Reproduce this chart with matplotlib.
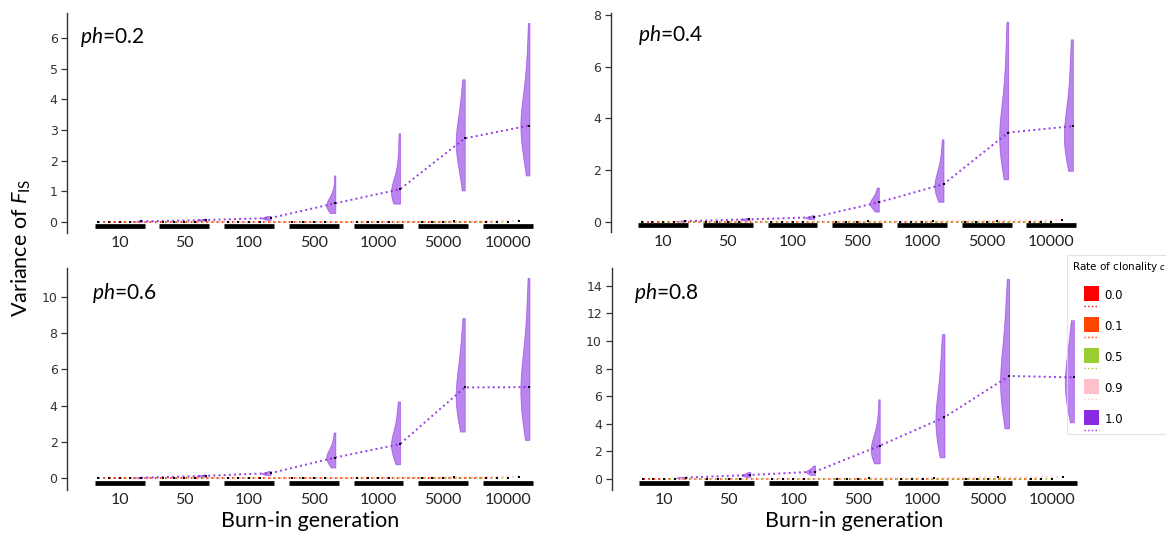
import numpy as np
import matplotlib
matplotlib.use('Agg')
import matplotlib.pyplot as plt
from matplotlib.lines import Line2D
from matplotlib.patches import Rectangle
from matplotlib.legend_handler import HandlerBase

plt.rcParams['mathtext.fontset'] = 'custom'
plt.rcParams['mathtext.rm'] = 'Lato'
plt.rcParams['mathtext.it'] = 'Lato:italic'

# categories
generations = ['10', '50', '100', '500', '1000', '5000', '10000']
clonality = ['0.0', '0.1', '0.5', '0.9', '1.0']
clon_colors = ['#ff0000', '#ff4500', '#9acd32', '#ffc0cb', '#8a2be2']
ph_labels = ['0.2', '0.4', '0.6', '0.8']

# mean variance of F_IS (c = 0.0, 0.1, 0.5 stay at ~0)
mean_zero = [0.0, 0.0, 0.0, 0.0, 0.0, 0.0, 0.0]
mean_c09_02 = [0.0, 0.0, 0.0, 0.005, 0.01, 0.03, 0.04]
mean_c09_04 = [0.0, 0.0, 0.0, 0.01, 0.02, 0.04, 0.06]
mean_c09_06 = [0.0, 0.0, 0.0, 0.02, 0.03, 0.06, 0.09]
mean_c09_08 = [0.0, 0.0, 0.01, 0.04, 0.06, 0.12, 0.15]
mean_c10_02 = [0.02, 0.065, 0.13, 0.61, 1.07, 2.73, 3.15]
mean_c10_04 = [0.02, 0.09, 0.17, 0.75, 1.45, 3.45, 3.70]
mean_c10_06 = [0.03, 0.13, 0.28, 1.14, 1.88, 5.00, 5.02]
mean_c10_08 = [0.10, 0.29, 0.53, 2.41, 4.47, 7.46, 7.36]

# replicate values behind the c = 1.0 violins
dist_c10_02 = [
    [0.0, 0.01, 0.02, 0.02, 0.03, 0.05],
    [0.03, 0.05, 0.06, 0.06, 0.07, 0.08, 0.11],
    [0.07, 0.10, 0.12, 0.13, 0.14, 0.16, 0.20],
    [0.29, 0.38, 0.44, 0.48, 0.52, 0.55, 0.58, 0.62, 0.68, 0.78, 0.90, 1.10, 1.52],
    [0.60, 0.72, 0.80, 0.86, 0.92, 0.98, 1.05, 1.12, 1.25, 1.45, 1.80, 2.30, 2.90],
    [1.03, 1.50, 1.90, 2.10, 2.30, 2.45, 2.60, 2.75, 2.90, 3.10, 3.35, 3.70, 4.10, 4.66],
    [1.52, 2.00, 2.40, 2.70, 2.90, 3.05, 3.20, 3.35, 3.55, 3.80, 4.20, 4.70, 5.30, 6.50],
]
dist_c10_04 = [
    [0.0, 0.01, 0.02, 0.02, 0.03, 0.05],
    [0.05, 0.07, 0.08, 0.09, 0.10, 0.11, 0.13],
    [0.10, 0.13, 0.15, 0.16, 0.17, 0.19, 0.25],
    [0.39, 0.50, 0.58, 0.64, 0.68, 0.72, 0.76, 0.80, 0.88, 0.98, 1.10, 1.32],
    [0.77, 0.95, 1.10, 1.20, 1.30, 1.40, 1.50, 1.60, 1.75, 1.95, 2.20, 2.60, 3.19],
    [1.64, 2.10, 2.50, 2.75, 2.95, 3.15, 3.35, 3.55, 3.80, 4.10, 4.50, 5.00, 5.70, 6.60, 7.74],
    [1.97, 2.40, 2.75, 2.95, 3.10, 3.30, 3.50, 3.70, 3.95, 4.30, 4.80, 5.40, 6.20, 7.06],
]
dist_c10_06 = [
    [0.0, 0.02, 0.03, 0.03, 0.04, 0.06],
    [0.08, 0.10, 0.12, 0.13, 0.14, 0.16, 0.20],
    [0.18, 0.22, 0.25, 0.27, 0.29, 0.31, 0.40],
    [0.59, 0.80, 0.92, 1.02, 1.10, 1.18, 1.26, 1.36, 1.50, 1.70, 2.00, 2.52],
    [0.77, 1.10, 1.35, 1.55, 1.70, 1.85, 2.00, 2.15, 2.35, 2.65, 3.05, 3.60, 4.23],
    [2.57, 3.10, 3.50, 3.85, 4.15, 4.45, 4.75, 5.05, 5.40, 5.80, 6.30, 6.90, 7.80, 8.82],
    [2.11, 2.80, 3.40, 3.90, 4.30, 4.70, 5.05, 5.40, 5.80, 6.30, 7.00, 7.90, 9.20, 11.03],
]
dist_c10_08 = [
    [0.02, 0.05, 0.08, 0.10, 0.12, 0.16],
    [0.15, 0.22, 0.26, 0.28, 0.30, 0.33, 0.40, 0.50],
    [0.29, 0.38, 0.45, 0.50, 0.54, 0.58, 0.65, 0.75, 0.97],
    [1.13, 1.40, 1.65, 1.85, 2.00, 2.15, 2.30, 2.50, 2.75, 3.10, 3.60, 4.40, 5.77],
    [1.57, 2.30, 2.90, 3.40, 3.80, 4.20, 4.60, 5.00, 5.50, 6.10, 6.90, 8.00, 9.20, 10.50],
    [3.67, 4.60, 5.30, 5.90, 6.40, 6.90, 7.40, 7.90, 8.50, 9.20, 10.10, 11.30, 12.80, 14.50],
    [4.10, 5.00, 5.60, 6.10, 6.50, 6.90, 7.30, 7.70, 8.20, 8.80, 9.50, 10.40, 11.50],
]

c09_means = [mean_c09_02, mean_c09_04, mean_c09_06, mean_c09_08]
c10_means = [mean_c10_02, mean_c10_04, mean_c10_06, mean_c10_08]
c10_dists = [dist_c10_02, dist_c10_04, dist_c10_06, dist_c10_08]

# layout (pixel-matched to a 1166x537 canvas)
axes_rects = [
    [0.0577, 0.5661, 0.4167, 0.4106],
    [0.5238, 0.5680, 0.4167, 0.4078],
    [0.0577, 0.0875, 0.4167, 0.4134],
    [0.5246, 0.0875, 0.4167, 0.4134],
]
ylims = [(-0.36, 6.84), (-0.40, 8.08), (-0.65, 11.58), (-0.80, 15.28)]
yticks = [np.arange(0, 7, 1), np.arange(0, 9, 2), np.arange(0, 11, 2), np.arange(0, 15, 2)]
ph_pos = [(0.027, 0.89), (0.056, 0.90), (0.05, 0.887), (0.046, 0.887)]

fig = plt.figure(figsize=(11.66, 5.37), dpi=100)

x = np.arange(len(generations))
offsets = np.array([-2, -1, 0, 1, 2]) / 6.0

for i in range(4):
    ax = fig.add_axes(axes_rects[i])
    series = [mean_zero, mean_zero, mean_zero, c09_means[i], c10_means[i]]

    # half violins (left half) for c = 1.0
    pos = x + offsets[4]
    vp = ax.violinplot(c10_dists[i], positions=pos, widths=0.28,
                       showextrema=False, showmeans=False)
    for body, p in zip(vp['bodies'], pos):
        verts = body.get_paths()[0].vertices
        verts[:, 0] = np.minimum(verts[:, 0], p)
        body.set_facecolor(clon_colors[4])
        body.set_edgecolor(clon_colors[4])
        body.set_linewidth(0.6)
        body.set_alpha(0.58)
        body.set_zorder(2)

    # dotted lines linking means across burn-in generations
    for k in range(len(clonality)):
        ax.plot(x + offsets[k], series[k], ls=':', color=clon_colors[k],
                lw=1.4, alpha=0.9 if k == 4 else 0.8, zorder=3)
    for k in range(len(clonality)):
        ax.plot(x + offsets[k], series[k], 's', color='black', ms=2.1,
                mew=0, zorder=4)

    # black group bars under each generation
    ax.hlines([0.031] * len(x), x - 0.385, x + 0.385, color='black', lw=3.4,
              transform=ax.get_xaxis_transform(), clip_on=False, zorder=3)

    ax.set_xlim(-0.81, 6.7)
    ax.set_ylim(*ylims[i])
    ax.set_yticks(yticks[i])
    ax.set_xticks(x)
    ax.set_xticklabels(generations, fontfamily='Lato', fontsize=11.5)
    ax.tick_params(axis='x', length=0, pad=2, colors='#222222')
    ax.tick_params(axis='y', length=4, width=0.9, labelsize=9,
                   colors='#333333', labelcolor='#333333', pad=3)
    for s in ['top', 'right', 'bottom']:
        ax.spines[s].set_visible(False)
    ax.spines['left'].set_color('#333333')
    ax.spines['left'].set_linewidth(1.0)

    ax.text(ph_pos[i][0], ph_pos[i][1], r'$ph$=' + ph_labels[i],
            transform=ax.transAxes, fontfamily='Lato', fontsize=15,
            ha='left', va='center', color='black')

    if i >= 2:
        ax.set_xlabel('Burn-in generation', fontfamily='Lato', fontsize=15.5,
                      labelpad=3)

fig.text(0.018, 0.538, r'Variance of $F_{\mathrm{IS}}$', rotation=90,
         ha='center', va='center', fontfamily='Lato', fontsize=15.5)


class ClonalityHandler(HandlerBase):
    # coloured square with a short dotted line underneath
    def create_artists(self, legend, orig_handle, xdescent, ydescent,
                       width, height, fontsize, trans):
        color = orig_handle.get_color()
        side = 0.8 * height
        x0 = -xdescent + width - side
        y0 = -ydescent + height - side
        sq = Rectangle((x0, y0), side, side, facecolor=color,
                       edgecolor='none', transform=trans)
        ln = Line2D([x0, x0 + side], [-ydescent - 0.05 * height] * 2,
                    color=color, ls=':', lw=1.0, transform=trans)
        return [sq, ln]


handles = [Line2D([], [], color=c) for c in clon_colors]
leg = fig.legend(handles, clonality, title=r'Rate of clonality $c$',
                 loc='upper left', bbox_to_anchor=(0.915, 0.525),
                 fontsize=8.5, title_fontsize=7.5, handlelength=2.3,
                 handleheight=2.07, labelspacing=1.04, handletextpad=0.5,
                 borderpad=0.4, borderaxespad=0, fancybox=False,
                 facecolor='none', edgecolor='#dddddd', alignment='left',
                 handler_map={Line2D: ClonalityHandler()})
leg.get_frame().set_linewidth(0.8)

fig.savefig('out.png', dpi=100)
